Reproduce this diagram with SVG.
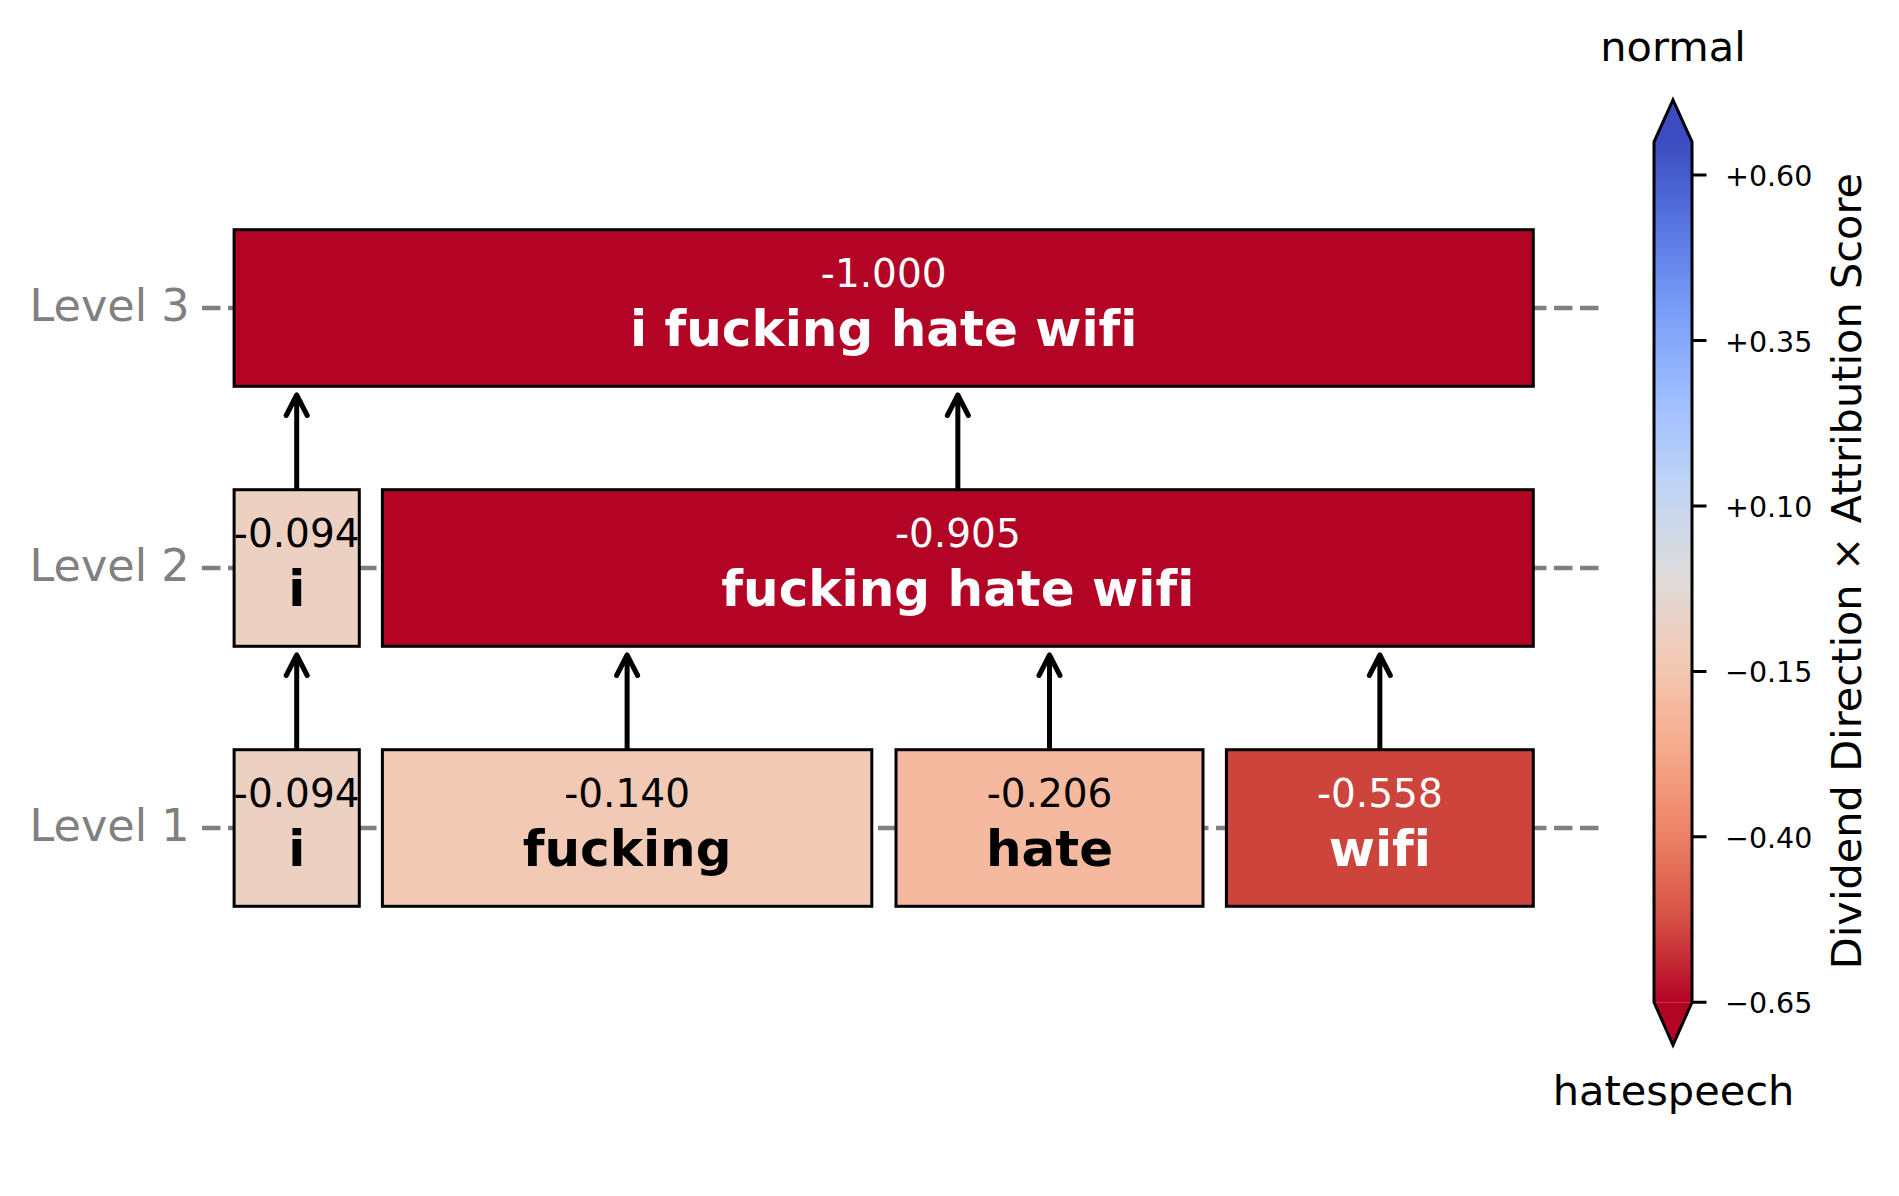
<svg xmlns="http://www.w3.org/2000/svg" width="1899" height="1196" viewBox="0 0 1899 1196">
<style>
text{font-family:"DejaVu Sans","Liberation Sans",sans-serif;font-variant-ligatures:none}
.box{stroke:#000;stroke-width:3}
.num{font-size:39px;text-anchor:middle}
.lab{font-size:50px;font-weight:bold;text-anchor:middle}
.w{fill:#fff}
.k{fill:#000}
.lvl{font-size:44.5px;fill:#808080;text-anchor:end}
.dash{stroke:#808080;stroke-width:4.5;stroke-dasharray:18.5 7.5;fill:none}
.arr{stroke:#000;stroke-width:5;fill:none;stroke-linecap:round;stroke-linejoin:round}
.tick{stroke:#000;stroke-width:3}
.tl{font-size:28.5px;fill:#000}
.cbt{font-size:41.5px;fill:#000}
</style>
<defs>
<linearGradient id="cw" x1="0" y1="0" x2="0" y2="1">
<stop offset="0" stop-color="#3b4cc0"/>
<stop offset="0.1" stop-color="#5977e3"/>
<stop offset="0.2" stop-color="#7b9ff9"/>
<stop offset="0.3" stop-color="#9ebeff"/>
<stop offset="0.4" stop-color="#c0d4f5"/>
<stop offset="0.5" stop-color="#dddcdc"/>
<stop offset="0.6" stop-color="#f2cbb7"/>
<stop offset="0.7" stop-color="#f7ac8e"/>
<stop offset="0.8" stop-color="#ee8468"/>
<stop offset="0.9" stop-color="#d65244"/>
<stop offset="1" stop-color="#b40426"/>
</linearGradient>
</defs>
<rect width="1899" height="1196" fill="#fff"/>
<g id="levels">
<path class="dash" d="M202,308H1599M202,568H1599M202,828H1599"/>
<text class="lvl" x="189.5" y="320.7">Level 3</text>
<text class="lvl" x="189.5" y="580.7">Level 2</text>
<text class="lvl" x="189.5" y="840.7">Level 1</text>
</g>
<g id="connectors">
<path class="arr" d="M296.7,749.7V655M286.2,675.5L296.7,655L307.2,675.5"/>
<path class="arr" d="M627.1,749.7V655M616.6,675.5L627.1,655L637.6,675.5"/>
<path class="arr" d="M1049.5,749.7V655M1039,675.5L1049.5,655L1060,675.5"/>
<path class="arr" d="M1379.85,749.7V655M1369.35,675.5L1379.85,655L1390.35,675.5"/>
<path class="arr" d="M296.7,489.7V395M286.2,415.5L296.7,395L307.2,415.5"/>
<path class="arr" d="M957.85,489.7V395M947.35,415.5L957.85,395L968.35,415.5"/>
</g>
<g id="n3">
<rect class="box" x="234.1" y="229.7" width="1299.2" height="156.6" fill="#b40426"/>
<text class="num w" x="883.7" y="287">-1.000</text>
<text class="lab w" x="883.7" y="346">i fucking hate wifi</text>
</g>
<g id="n2i">
<rect class="box" x="234.1" y="489.7" width="125.2" height="156.6" fill="#ecd0c1"/>
<text class="num k" x="296.7" y="547">-0.094</text>
<text class="lab k" x="296.7" y="606">i</text>
</g>
<g id="n2b">
<rect class="box" x="382.4" y="489.7" width="1150.9" height="156.6" fill="#b40426"/>
<text class="num w" x="957.85" y="547">-0.905</text>
<text class="lab w" x="957.85" y="606">fucking hate wifi</text>
</g>
<g id="n1i">
<rect class="box" x="234.1" y="749.7" width="125.2" height="156.6" fill="#ecd0c1"/>
<text class="num k" x="296.7" y="807">-0.094</text>
<text class="lab k" x="296.7" y="866">i</text>
</g>
<g id="n1f">
<rect class="box" x="382.4" y="749.7" width="489.4" height="156.6" fill="#f2c9b4"/>
<text class="num k" x="627.1" y="807">-0.140</text>
<text class="lab k" x="627.1" y="866">fucking</text>
</g>
<g id="n1h">
<rect class="box" x="896" y="749.7" width="307" height="156.6" fill="#f5b99f"/>
<text class="num k" x="1049.5" y="807">-0.206</text>
<text class="lab k" x="1049.5" y="866">hate</text>
</g>
<g id="n1w">
<rect class="box" x="1226.4" y="749.7" width="306.9" height="156.6" fill="#cc443c"/>
<text class="num w" x="1379.85" y="807">-0.558</text>
<text class="lab w" x="1379.85" y="866">wifi</text>
</g>
<g id="colorbar">
<rect x="1654" y="141.9" width="38" height="860.4" fill="url(#cw)"/>
<polygon points="1654,141.9 1673,100 1692,141.9" fill="#3b4cc0"/>
<polygon points="1654,1002.3 1673,1045 1692,1002.3" fill="#b40426"/>
<path d="M1654,141.9L1673,100L1692,141.9V1002.3L1673,1045L1654,1002.3Z" fill="none" stroke="#000" stroke-width="3" stroke-linejoin="miter"/>
<path class="tick" d="M1692,175H1706.5M1692,340.5H1706.5M1692,505.9H1706.5M1692,671.4H1706.5M1692,836.8H1706.5M1692,1002.3H1706.5"/>
<text class="tl" x="1725" y="186">+0.60</text>
<text class="tl" x="1725" y="351.5">+0.35</text>
<text class="tl" x="1725" y="516.9">+0.10</text>
<text class="tl" x="1725" y="682.4">−0.15</text>
<text class="tl" x="1725" y="847.8">−0.40</text>
<text class="tl" x="1725" y="1013.3">−0.65</text>
<text class="cbt" x="1673" y="60.5" text-anchor="middle">normal</text>
<text class="cbt" x="1673.5" y="1105" text-anchor="middle">hatespeech</text>
<text class="cbt" text-anchor="middle" transform="translate(1861,571) rotate(-90)">Dividend Direction × Attribution Score</text>
</g>
</svg>
